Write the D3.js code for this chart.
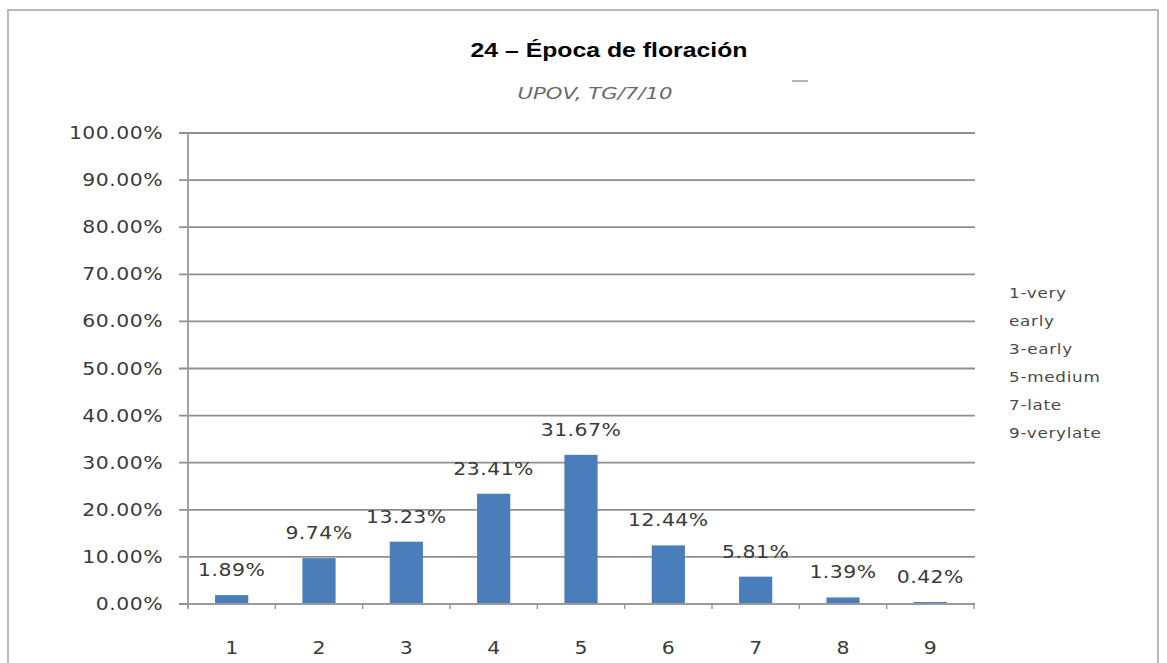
<!DOCTYPE html>
<html>
<head>
<meta charset="utf-8">
<script src="https://cdn.jsdelivr.net/npm/d3@7"></script>
<style>
  body { margin: 0; background: #fff; }
  svg { display: block; }
</style>
</head>
<body>
<div id="chart"></div>
<script>
var categories = ["1", "2", "3", "4", "5", "6", "7", "8", "9"];
var values = [1.89, 9.74, 13.23, 23.41, 31.67, 12.44, 5.81, 1.39, 0.42];
var yTicks = [0, 10, 20, 30, 40, 50, 60, 70, 80, 90, 100];
var legendLines = ["1-very", "early", "3-early", "5-medium", "7-late", "9-verylate"];
var title = "24 \u2013 \u00c9poca de floraci\u00f3n";
var subtitle = "UPOV, TG/7/10";

var width = 1167, height = 663;
var plot = { left: 188, right: 974, top: 133, bottom: 604 };
var sx = 1.2; // the picture is stretched sideways, so text is too
var font = "DejaVu Sans, Verdana, sans-serif";

var svg = d3.select("#chart").append("svg")
    .attr("width", width)
    .attr("height", height);

// outer frame
svg.append("rect")
    .attr("x", 8).attr("y", 10)
    .attr("width", 1150).attr("height", 700)
    .attr("fill", "none")
    .attr("stroke", "#b8b8b8")
    .attr("stroke-width", 2);

var x = d3.scaleBand()
    .domain(categories)
    .range([plot.left, plot.right])
    .paddingInner(0.62)
    .paddingOuter(0.31);

var y = d3.scaleLinear()
    .domain([0, 100])
    .range([plot.bottom, plot.top]);

function addText(g, tx, ty, str, anchor) {
    return g.append("g")
        .attr("transform", "translate(" + tx + "," + ty + ") scale(" + sx + ",1)")
        .append("text")
        .attr("text-anchor", anchor || "middle")
        .text(str);
}

// gridlines + y axis labels
var yAxis = svg.append("g")
    .attr("font-family", font)
    .attr("font-size", 17)
    .attr("letter-spacing", 0.4)
    .attr("fill", "#3a3a3a");

yAxis.selectAll("line.grid")
    .data(yTicks)
    .join("line")
    .attr("class", "grid")
    .attr("x1", plot.left - 9)
    .attr("x2", plot.right + 1)
    .attr("y1", function(d) { return y(d); })
    .attr("y2", function(d) { return y(d); })
    .attr("stroke", "#8f8f8f")
    .attr("stroke-width", 1.8);

yTicks.forEach(function(d) {
    addText(yAxis, 163, y(d) + 6, d.toFixed(2) + "%", "end");
});

// y axis line
svg.append("line")
    .attr("x1", plot.left).attr("x2", plot.left)
    .attr("y1", plot.top).attr("y2", plot.bottom + 4)
    .attr("stroke", "#9a9a9a")
    .attr("stroke-width", 1.8);

// bars
svg.selectAll("rect.bar")
    .data(values)
    .join("rect")
    .attr("class", "bar")
    .attr("x", function(d, i) { return x(categories[i]); })
    .attr("y", function(d) { return y(d); })
    .attr("width", x.bandwidth())
    .attr("height", function(d) { return y(0) - y(d); })
    .attr("fill", "#4a7ebb");

// x axis line and ticks between categories
svg.append("line")
    .attr("x1", plot.left).attr("x2", plot.right)
    .attr("y1", plot.bottom).attr("y2", plot.bottom)
    .attr("stroke", "#9a9a9a")
    .attr("stroke-width", 1.8);

var step = x.step();
d3.range(categories.length + 1).forEach(function(i) {
    var tx = plot.left + i * step;
    svg.append("line")
        .attr("x1", tx).attr("x2", tx)
        .attr("y1", plot.bottom).attr("y2", plot.bottom + 5)
        .attr("stroke", "#9a9a9a")
        .attr("stroke-width", 1.5);
});

// category labels
var xLabels = svg.append("g")
    .attr("font-family", font)
    .attr("font-size", 17)
    .attr("fill", "#3a3a3a");
categories.forEach(function(c) {
    addText(xLabels, x(c) + x.bandwidth() / 2, 654, c);
});

// data labels
var dataLabels = svg.append("g")
    .attr("font-family", font)
    .attr("font-size", 17)
    .attr("letter-spacing", 0.4)
    .attr("fill", "#3a3a3a");
values.forEach(function(v, i) {
    addText(dataLabels, x(categories[i]) + x.bandwidth() / 2, y(v) - 19, v.toFixed(2) + "%");
});

// title
svg.append("text")
    .attr("x", 609)
    .attr("y", 57)
    .attr("text-anchor", "middle")
    .attr("font-family", "Liberation Sans, Arial, sans-serif")
    .attr("font-weight", "bold")
    .attr("font-size", 20)
    .attr("textLength", 277)
    .attr("lengthAdjust", "spacingAndGlyphs")
    .attr("fill", "#000")
    .text(title);

// subtitle
svg.append("text")
    .attr("x", 595)
    .attr("y", 99)
    .attr("text-anchor", "middle")
    .attr("font-family", font)
    .attr("font-style", "italic")
    .attr("font-size", 15)
    .attr("textLength", 155)
    .attr("lengthAdjust", "spacingAndGlyphs")
    .attr("fill", "#6a6a6a")
    .text(subtitle);

// faint dash next to the subtitle
svg.append("line")
    .attr("x1", 792).attr("x2", 808)
    .attr("y1", 81).attr("y2", 81)
    .attr("stroke", "#9a9a9a")
    .attr("stroke-width", 1.5);

// legend text
var legend = svg.append("g")
    .attr("font-family", font)
    .attr("font-size", 14)
    .attr("letter-spacing", 0.6)
    .attr("fill", "#4a4a4a");
legendLines.forEach(function(t, i) {
    addText(legend, 1009, 298 + i * 28, t, "start");
});
</script>
</body>
</html>
